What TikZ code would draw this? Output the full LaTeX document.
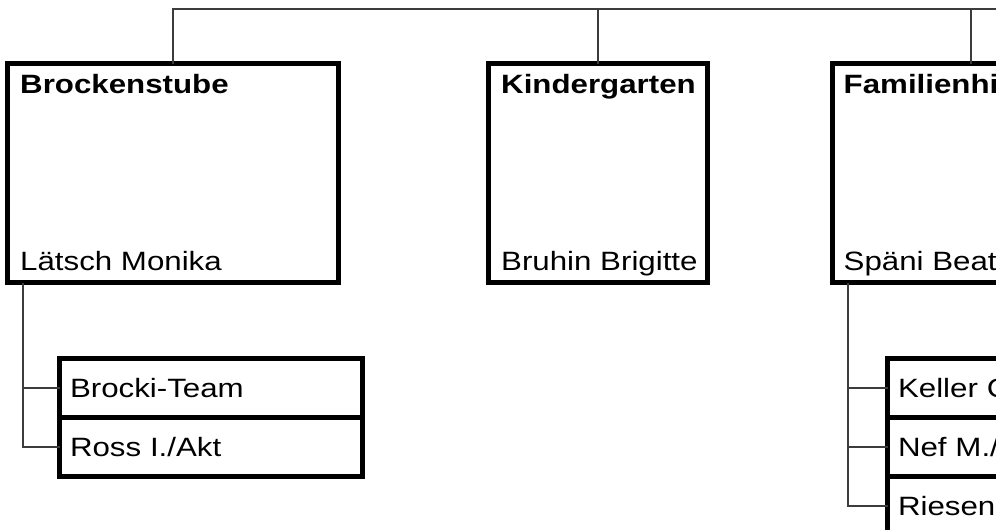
\documentclass[tikz,border=0pt]{standalone}
\usepackage{fontspec}
\setmainfont[FakeStretch=1.18]{Liberation Sans}
\usepackage{tikz}
\usetikzlibrary{positioning,calc}
\definecolor{OrgLine}{RGB}{60, 60, 60}
\newcommand{\orgfont}{\fontsize{26.5}{30}\selectfont}

\tikzset{
  orgbox/.style={draw, line width=5pt, rectangle, inner sep=0pt, outer sep=0pt},
  teambox/.style={draw, line width=5pt, rectangle, inner xsep=10.5pt, inner ysep=0pt, outer sep=0pt,
    minimum width=303pt, minimum height=59pt, text width=282pt, align=left, text height=19.3pt, text depth=0pt},
  unittitle/.style={inner sep=0pt, anchor=base west, font=\orgfont\bfseries},
  unitlead/.style={inner sep=0pt, anchor=base west},
  orgline/.style={draw=OrgLine, line width=1.3pt},
}

\begin{document}
\begin{tikzpicture}[x=1pt, y=-1pt, font=\orgfont]
    \useasboundingbox[fill=white] (0,0) rectangle (996,530);
    \clip (0,0) rectangle (996,530);

    % Units
    \node [orgbox, minimum width=331pt, minimum height=219pt] (brocke) at (173,173) {};
    \node [orgbox, minimum width=219pt, minimum height=219pt] (kinder) at (598,173) {};
    \node [orgbox, minimum width=277pt, minimum height=219pt] (famil) at (971,173) {};

    \node [unittitle] (brocke-title) at ($(brocke.north west)+(12.5,29.5)$) {Brockenstube};
    \node [unitlead] (brocke-lead) at ($(brocke.south west)+(12.5,-12.5)$) {Lätsch Monika};
    \node [unittitle] (kinder-title) at ($(kinder.north west)+(12.5,29.5)$) {Kindergarten};
    \node [unitlead] (kinder-lead) at ($(kinder.south west)+(12.5,-12.5)$) {Bruhin Brigitte};
    \node [unittitle] (famil-title) at ($(famil.north west)+(11,29.5)$) {Familienhi};
    \node [unitlead] (famil-lead) at ($(famil.south west)+(11,-12.5)$) {Späni Beat};

    % Teams
    \node [teambox] (bteam) at (211,388) {Brocki-Team};
    \node [teambox, below=0pt of bteam] (bross) {Ross I./Akt};
    \node [teambox] (fkeller) at (1039,388) {Keller C};
    \node [teambox, below=0pt of fkeller] (fnef) {Nef M./};
    \node [teambox, below=0pt of fnef] (friesen) {Riesen};

    % Lines
    \coordinate (bus) at (1200,9);
    \draw[orgline] (brocke.north) |- (bus);
    \draw[orgline] (kinder.north) -- (kinder.north |- bus);
    \draw[orgline] (famil.north) -- (famil.north |- bus);

    \coordinate (brocke-stem) at ($(brocke.south west)+(15.5,0)$);
    \draw[orgline] (brocke-stem) |- (bteam.west);
    \draw[orgline] (brocke-stem) |- (bross.west);
    \coordinate (famil-stem) at ($(famil.south west)+(15.5,0)$);
    \draw[orgline] (famil-stem) |- (fkeller.west);
    \draw[orgline] (famil-stem) |- (fnef.west);
    \draw[orgline] (famil-stem) |- (friesen.west);
  \end{tikzpicture}
\end{document}
